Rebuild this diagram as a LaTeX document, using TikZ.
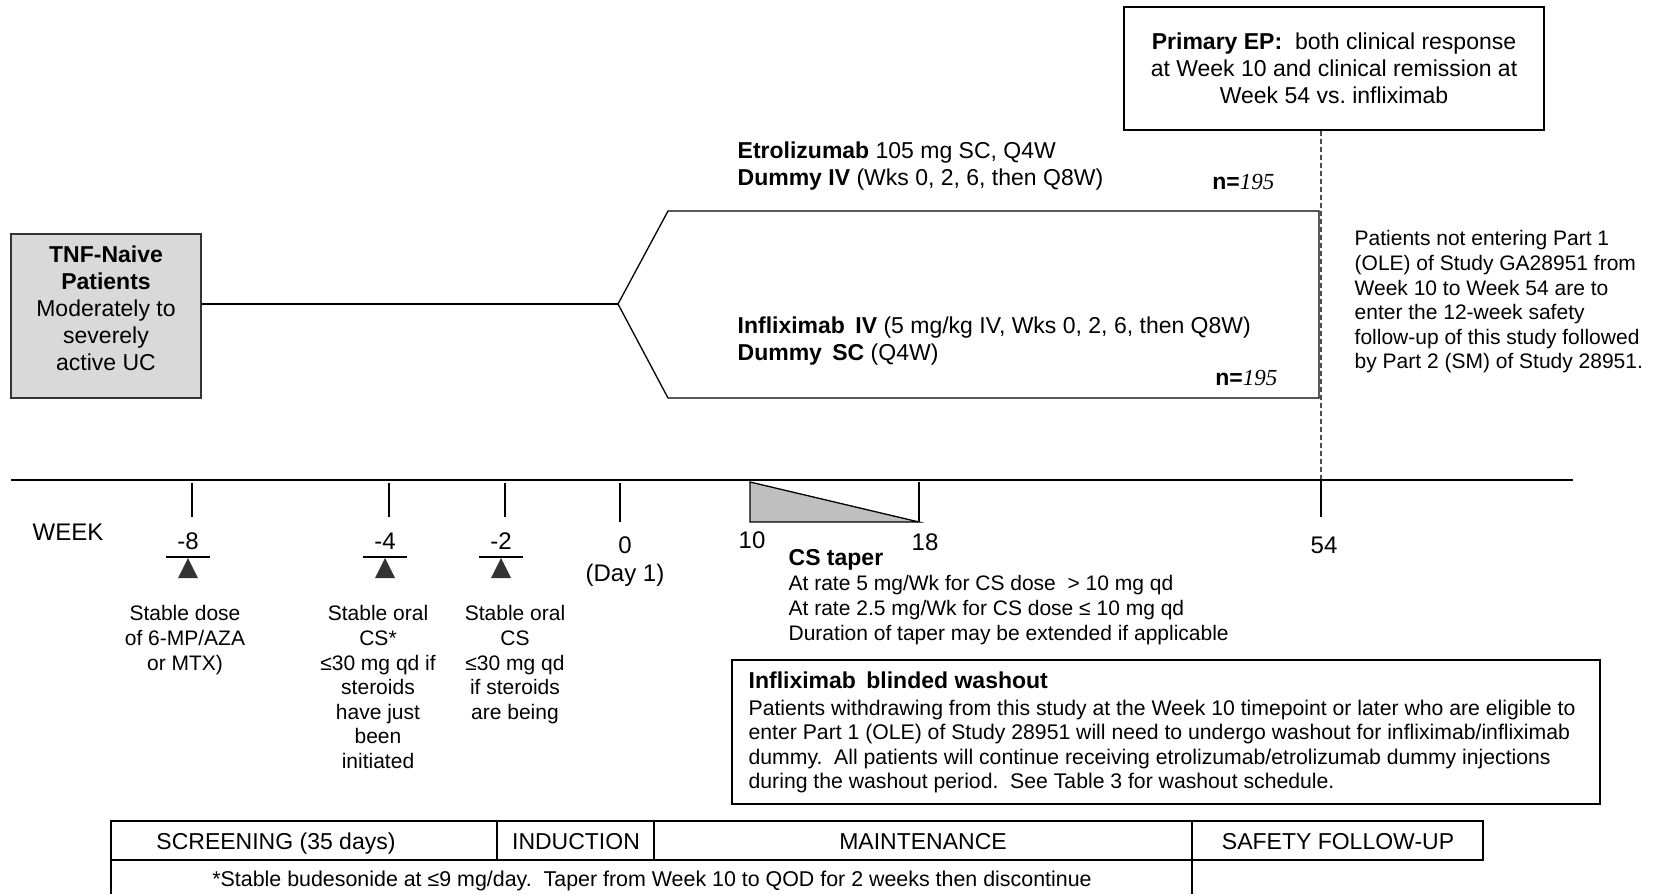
\documentclass[tikz,border=0pt]{standalone}
\usepackage{fontspec}
\setmainfont{Liberation Sans}
\newfontfamily\numfont{Liberation Serif}
\begin{document}
\begin{tikzpicture}[x=1pt,y=-1pt,line width=1.3pt,
  txt/.style={inner sep=0pt,font=\fontsize{21}{24.6}\selectfont},
  big/.style={inner sep=0pt,font=\fontsize{23}{27}\selectfont},
  wk/.style={inner sep=0pt,font=\fontsize{24}{28}\selectfont}]
\useasboundingbox (0,0) rectangle (1656,894);
% patients and the two arms
\node[draw=black!80,fill=black!15,minimum width=190,minimum height=164] (tnf) at (106,316) {};
\node[big,align=center,anchor=north] (tnftxt) at (106,245) {\textbf{TNF-Naive}\\\textbf{Patients}\\Moderately to\\severely\\active UC};
\coordinate (split) at (618,304);
\coordinate (armtl) at (668,211); \coordinate (armtr) at (1319,211);
\coordinate (armbr) at (1319,398); \coordinate (armbl) at (668,398);
\draw (tnf.east |- split) -- (split);
\draw (split) -- (armtl) -- (armtr) -- (armbr) -- (armbl) -- cycle;
\node[big,align=left,anchor=north west] (etro) at (737,141) {\textbf{Etrolizumab} 105 mg SC, Q4W\\\textbf{Dummy IV} (Wks 0, 2, 6, then Q8W)};
\node[big,anchor=base east] (netro) at (1275,189) {\textbf{n=}{\numfont\itshape 195}};
\node[big,align=left,anchor=north west] (infl) at (737,316) {\textbf{Infliximab\hspace{4pt} IV} (5 mg/kg IV, Wks 0, 2, 6, then Q8W)\\\textbf{Dummy\hspace{4pt} SC} (Q4W)};
\node[big,anchor=base east] (ninfl) at (1278,385) {\textbf{n=}{\numfont\itshape 195}};
% endpoint and note on the right
\node[draw,minimum width=420,minimum height=123,big,align=center] (ep) at (1334,68.5) {\textbf{Primary EP:}\ \ both clinical response\\at Week 10 and clinical remission at\\Week 54 vs.\ infliximab};
\node[txt,align=left,anchor=north west] (note) at (1354,230) {Patients not entering Part 1\\(OLE) of Study GA28951 from\\Week 10 to Week 54 are to\\enter the 12-week safety\\follow-up of this study followed\\by Part 2 (SM) of Study 28951.};
\coordinate (w54) at (1321,481);
\draw[black!70,dash pattern=on 5pt off 3pt] (ep.south -| w54) -- (w54);
% timeline
\draw (11,480) -- (1573,480);
\node[wk,anchor=base] (week) at (68,540) {WEEK};
\foreach \x/\w/\n in {192/-8/wkm8,389/-4/wkm4,505/-2/wkm2} {
  \draw (\x,483) -- (\x,517);
  \node[wk,anchor=base] (\n) at ({\x-4},549) {\w};
  \draw[line width=2pt] ({\x-26},557) -- ({\x+18},557);
  \fill[black!80] ({\x-14},578) -- ({\x-4},558) -- ({\x+6},578) -- cycle;
}
\draw (620,483) -- (620,522);
\node[wk,align=center,anchor=north] (wk0) at (625,536) {0\\(Day 1)};
\draw (w54) -- (1321,517);
\draw[fill=black!25] (750,482) -- (750,522) -- (919,522) -- cycle;
\draw (919,482) -- (919,522);
\node[wk,anchor=base] (wk10) at (752,548) {10};
\node[wk,anchor=base] (wk18) at (925,550) {18};
\node[wk,anchor=base] (wk54) at (1324,553) {54};
\node[big,anchor=base west] (taper) at (788,565) {\textbf{CS taper}};
\node[txt,align=left,anchor=north west] (taperinfo) at (788,575) {At rate 5 mg/Wk for CS dose\ \ > 10 mg qd\\At rate 2.5 mg/Wk for CS dose ≤ 10 mg qd\\Duration of taper may be extended if applicable};
\node[txt,align=center,anchor=north] (note8) at (185,605) {Stable dose\\of 6-MP/AZA\\or MTX)};
\node[txt,align=center,anchor=north] (note4) at (378,605) {Stable oral\\CS*\\≤30 mg qd if\\steroids\\have just\\been\\initiated};
\node[txt,align=center,anchor=north] (note2) at (515,605) {Stable oral\\CS\\≤30 mg qd\\if steroids\\are being};
% washout box
\node[draw,minimum width=868,minimum height=144,inner sep=0pt] (wash) at (1166,732) {};
\node[big,anchor=base west] (washttl) at (748,688) {\textbf{Infliximab\hspace{4pt} blinded washout}};
\node[inner sep=0pt,font=\fontsize{21.2}{24.6}\selectfont,align=left,anchor=north west] (washtxt) at (748,699) {Patients withdrawing from this study at the Week 10 timepoint or later who are eligible to\\enter Part 1 (OLE) of Study 28951 will need to undergo washout for infliximab/infliximab\\dummy.\ \ All patients will continue receiving etrolizumab/etrolizumab dummy injections\\during the washout period.\ \ See Table 3 for washout schedule.};
% study periods
\foreach \a/\b in {111/497,497/654,654/1192,1192/1483}
  \draw (\a,821) rectangle (\b,860);
\draw (111,860) -- (111,894) (1192,860) -- (1192,894);
\node[big,anchor=base] (screen) at (276,849) {SCREENING (35 days)};
\node[big,anchor=base] (induct) at (576,849) {INDUCTION};
\node[big,anchor=base] (maint) at (923,849) {MAINTENANCE};
\node[big,anchor=base] (safety) at (1338,849) {SAFETY FOLLOW-UP};
\node[inner sep=0pt,font=\fontsize{21.4}{24}\selectfont,anchor=base] (foot) at (652,886) {*Stable budesonide at ≤9 mg/day.\ \ Taper from Week 10 to QOD for 2 weeks then discontinue};
\end{tikzpicture}
\end{document}
